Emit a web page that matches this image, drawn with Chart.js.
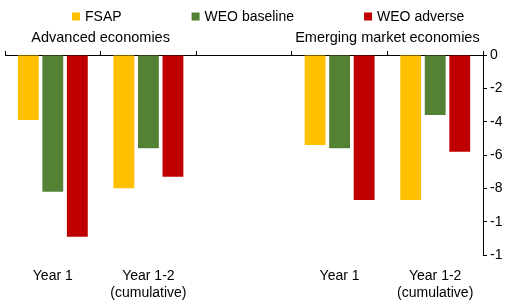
<!DOCTYPE html>
<html>
<head>
<meta charset="utf-8">
<script src="https://cdn.jsdelivr.net/npm/chart.js@4.4.1/dist/chart.umd.min.js"></script>
<style>
  html, body { margin: 0; padding: 0; background: #fff; overflow: hidden; }
  #wrap { width: 510px; height: 306px; }
</style>
</head>
<body>
<div id="wrap"><canvas id="c" width="510" height="306"></canvas></div>
<script>
// kategoriler ve seriler
const categories = ['Year 1', ['Year 1-2', '(cumulative)'], '', 'Year 1', ['Year 1-2', '(cumulative)']];
const groups = ['Advanced economies', 'Emerging market economies'];
const fsap = [-3.9, -8.0, null, -5.4, -8.7];
const weoBaseline = [-8.2, -5.6, null, -5.6, -3.6];
const weoAdverse = [-10.9, -7.3, null, -8.7, -5.8];
// y ekseni etiketleri (resimde sağdan kesik)
const yTickLabels = { '0': '0', '-2': '-2', '-4': '-4', '-6': '-6', '-8': '-8', '-10': '-1', '-12': '-1' };

const FONT = 'Liberation Sans, Arial, sans-serif';

// lejant + grup başlıkları
const decorations = {
    id: 'decorations',
    afterDraw(chart) {
        const ctx = chart.ctx;
        const x = chart.scales.x;
        const top = chart.chartArea.top;
        ctx.save();
        ctx.fillStyle = '#000';
        ctx.textBaseline = 'middle';

        // lejant
        ctx.font = '14px ' + FONT;
        ctx.textAlign = 'left';
        let lx = 72;
        chart.data.datasets.forEach(ds => {
            ctx.fillStyle = ds.backgroundColor;
            ctx.fillRect(lx, 12.5, 8, 8);
            ctx.fillStyle = '#000';
            ctx.fillText(ds.label, lx + 13, 17);
            lx += 13 + ctx.measureText(ds.label).width + 70;
        });

        // grup başlıkları
        ctx.font = '14.5px ' + FONT;
        ctx.textAlign = 'center';
        const mid1 = (x.getPixelForValue(0) + x.getPixelForValue(1)) / 2;
        const mid2 = (x.getPixelForValue(3) + x.getPixelForValue(4)) / 2;
        ctx.fillText(groups[0], mid1, top - 17);
        ctx.fillText(groups[1], mid2, top - 17);
        ctx.restore();
    }
};

new Chart(document.getElementById('c').getContext('2d'), {
    type: 'bar',
    data: {
        labels: categories,
        datasets: [
            { label: 'FSAP', data: fsap, backgroundColor: '#FFC000' },
            { label: 'WEO baseline', data: weoBaseline, backgroundColor: '#548235' },
            { label: 'WEO adverse', data: weoAdverse, backgroundColor: '#C00000' }
        ]
    },
    options: {
        responsive: false,
        animation: false,
        devicePixelRatio: 1,
        categoryPercentage: 0.77,
        barPercentage: 0.85,
        layout: { padding: { left: 5, right: 0, top: 0, bottom: 0 } },
        plugins: {
            legend: { display: false },
            tooltip: { enabled: false }
        },
        scales: {
            x: {
                position: 'top',
                offset: true,
                grid: { drawOnChartArea: false, drawTicks: true, tickLength: 4, color: '#000', offset: true },
                border: { display: true, color: '#000', width: 1 },
                ticks: { display: false },
                afterFit(s) { s.height = 55; s.paddingLeft = 0; s.paddingRight = 0; }
            },
            x2: {
                position: 'bottom',
                type: 'category',
                offset: true,
                grid: { display: false },
                border: { display: false },
                ticks: { color: '#000', font: { family: FONT, size: 14 }, padding: 5, maxRotation: 0, autoSkip: false },
                afterFit(s) { s.height = 51; s.paddingLeft = 0; s.paddingRight = 0; }
            },
            y: {
                position: 'right',
                min: -12,
                max: 0,
                grid: { drawOnChartArea: false, drawTicks: true, tickLength: 4, color: '#000' },
                border: { display: true, color: '#000', width: 1 },
                ticks: {
                    stepSize: 2,
                    color: '#000',
                    font: { family: FONT, size: 14 },
                    padding: 3,
                    callback: v => yTickLabels[String(v)]
                },
                afterFit(s) { s.width = 27; s.paddingTop = 0; s.paddingBottom = 0; }
            }
        }
    },
    plugins: [decorations]
});
</script>
</body>
</html>
